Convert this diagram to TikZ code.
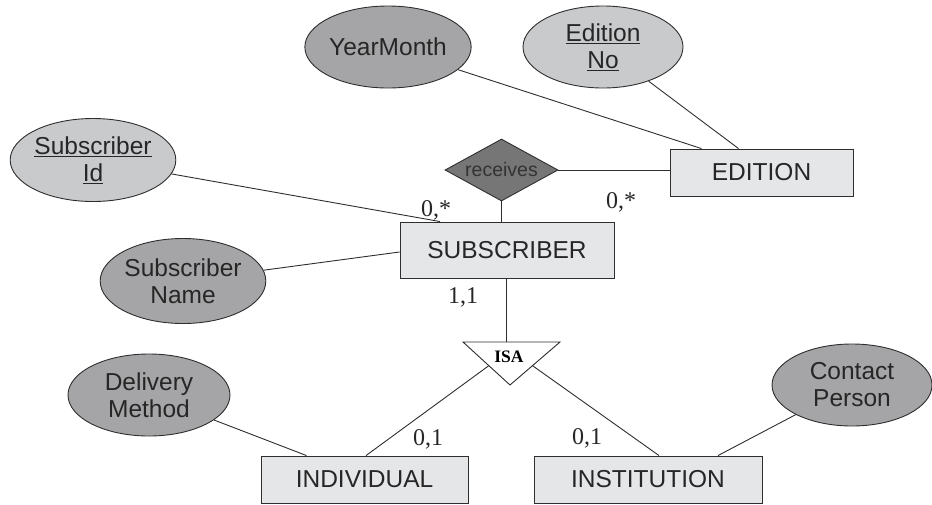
\documentclass[tikz,border=0pt]{standalone}
\usepackage{fontspec}
\setmainfont{Liberation Sans}
\newfontfamily\serifnum{Liberation Serif}
\usetikzlibrary{shapes.geometric,calc}
\definecolor{rectfill}{HTML}{E5E6E8}
\definecolor{lightell}{HTML}{C9CACC}
\definecolor{darkell}{HTML}{A5A5A7}
\definecolor{diamfill}{HTML}{767676}
\definecolor{edge}{HTML}{2E2E2E}
\begin{document}
\begin{tikzpicture}[x=1pt,y=-1pt,
  conn/.style={draw=edge,line width=0.9pt},
  entity/.style={draw=edge,line width=0.9pt,fill=rectfill,rectangle,inner sep=0pt,font=\fontsize{24.5}{27}\selectfont,text=black!85},
  attrlight/.style={draw=edge,line width=0.9pt,fill=lightell,ellipse,inner sep=0pt,align=center,font=\fontsize{24.5}{27}\selectfont,text=black!85},
  attrdark/.style={draw=edge,line width=0.9pt,fill=darkell,ellipse,inner sep=0pt,align=center,font=\fontsize{24.5}{27}\selectfont,text=black!85},
  card/.style={font=\serifnum\fontsize{24}{26}\selectfont,text=black!85,inner sep=0pt}
]
\useasboundingbox (0,0) rectangle (932,504);
% entities
\node[entity,minimum width=183pt,minimum height=47pt] (ed) at (761.5,172.5) {EDITION};
\node[entity,minimum width=214pt,minimum height=56pt] (sub) at (507,250) {SUBSCRIBER};
\node[entity,minimum width=207pt,minimum height=47pt] (ind) at (364.5,479.5) {INDIVIDUAL};
\node[entity,minimum width=228pt,minimum height=47pt] (inst) at (648,479.5) {INSTITUTION};
% attributes
\node[attrdark,minimum width=162pt,minimum height=82pt] (ym) at (388,47) {YearMonth};
\node[attrlight,minimum width=160pt,minimum height=82pt] (edno) at (603,47) {\underline{Edition}\\\underline{No}};
\node[attrlight,minimum width=160pt,minimum height=83pt] (sid) at (93,160) {\underline{Subscriber}\\\underline{Id}};
\node[attrdark,minimum width=160pt,minimum height=85pt] (sname) at (183,281) {Subscriber\\Name};
\node[attrdark,minimum width=162pt,minimum height=82pt] (dm) at (149,395) {Delivery\\Method};
\node[attrdark,minimum width=160pt,minimum height=82pt] (cp) at (852,385) {Contact\\Person};
% relationship
\node[diamond,aspect=1.82,draw=edge,line width=0.9pt,fill=diamfill,inner sep=0pt,minimum width=113pt,minimum height=62pt,
      font=\fontsize{19.5}{21}\selectfont,text=black!80] (rec) at (501.5,170) {receives};
% ISA triangle
\coordinate (tl) at (463,342);
\coordinate (tr) at (560,342);
\coordinate (tb) at (510,385);
\draw[draw=edge,line width=0.9pt,fill=white] (tl) -- (tr) -- (tb) -- cycle;
\node[font=\serifnum\bfseries\fontsize{17.5}{18}\selectfont,inner sep=0pt] (isa) at (509,357) {ISA};
\coordinate (isal) at ($(tl)!0.55!(tb)$);
\coordinate (isar) at ($(tr)!0.55!(tb)$);
% connectors
\draw[conn] (ym) -- ([xshift=-60pt]ed.north);
\draw[conn] (edno) -- ([xshift=-23pt]ed.north);
\draw[conn] (sid) -- ([xshift=-67pt]sub.north);
\draw[conn] (sname) -- ([yshift=-2pt]sub.west);
\draw[conn] (rec.east) -- (rec.east -| ed.west);
\draw[conn] (rec.south) -- (rec.south |- sub.north);
\draw[conn] ([xshift=-1pt]sub.south) -- ([xshift=-1pt]sub.south |- tl);
\draw[conn] (isal) -- ([xshift=1.5pt]ind.north);
\draw[conn] (isar) -- ([xshift=11pt]inst.north);
\draw[conn] (dm) -- ([xshift=-58pt]ind.north);
\draw[conn] (cp) -- ([xshift=70pt]inst.north);
% cardinalities
\node[card] (c1) at (436,210) {0,*};
\node[card] (c2) at (621,202) {0,*};
\node[card] (c3) at (463,297) {1,1};
\node[card] (c4) at (428,439) {0,1};
\node[card] (c5) at (587,438) {0,1};
\end{tikzpicture}
\end{document}
